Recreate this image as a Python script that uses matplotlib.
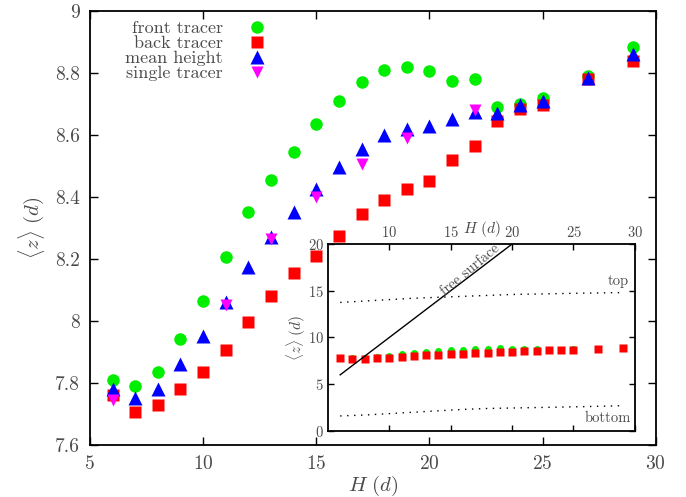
import numpy as np
import matplotlib
matplotlib.use("Agg")
import matplotlib.pyplot as plt
from matplotlib.ticker import FormatStrFormatter

plt.rcParams['font.family'] = 'cmr10'
plt.rcParams['mathtext.fontset'] = 'cm'
plt.rcParams['axes.formatter.use_mathtext'] = True

H = [6, 7, 8, 9, 10, 11, 12, 13, 14, 15, 16, 17, 18, 19, 20, 21, 22, 23, 24, 25, 27, 29]
front = [7.81, 7.79, 7.835, 7.94, 8.065, 8.205, 8.35, 8.455, 8.545, 8.635, 8.71, 8.77,
         8.81, 8.82, 8.805, 8.775, 8.78, 8.69, 8.70, 8.72, 8.79, 8.885]
back = [7.76, 7.705, 7.73, 7.78, 7.835, 7.905, 7.995, 8.08, 8.155, 8.21, 8.275, 8.345,
        8.39, 8.425, 8.45, 8.52, 8.565, 8.645, 8.685, 8.695, 8.78, 8.84]
mean_h = [7.78, 7.75, 7.78, 7.86, 7.95, 8.06, 8.175, 8.27, 8.35, 8.425, 8.495, 8.555,
          8.60, 8.62, 8.63, 8.65, 8.675, 8.67, 8.695, 8.71, 8.785, 8.86]
H_single = [6, 11, 13, 15, 17, 19, 22]
single = [7.745, 8.05, 8.265, 8.40, 8.505, 8.59, 8.68]

# bed top / bottom positions for the inset
H_bed = [6, 8, 10, 12, 14, 16, 18, 20, 22, 24, 26, 29]
bed_top = [13.75, 13.9, 14.05, 14.2, 14.3, 14.4, 14.5, 14.6, 14.65, 14.7, 14.75, 14.8]
bed_bottom = [1.6, 1.7, 1.85, 2.0, 2.15, 2.3, 2.4, 2.45, 2.5, 2.55, 2.6, 2.7]
H_surf = [6, 29]

grey = '#4a4a4a'

fig = plt.figure(figsize=(6.86, 4.97), dpi=100)
ax = fig.add_axes([0.131, 0.105, 0.825, 0.873])

ax.plot(H, front, 'o', color='#00ee00', ms=9, mec='none', label='front tracer')
ax.plot(H, back, 's', color='#ff0000', ms=8.5, mec='none', label='back tracer')
ax.plot(H, mean_h, '^', color='#0000ff', ms=10, mec='none', label='mean height')
ax.plot(H_single, single, 'v', color='#ff00ff', ms=9, mec='none', label='single tracer')

ax.set_xlim(5, 30)
ax.set_ylim(7.6, 9)
ax.set_xticks([5, 10, 15, 20, 25, 30])
ax.set_yticks([7.6, 7.8, 8, 8.2, 8.4, 8.6, 8.8, 9])
ax.yaxis.set_major_formatter(FormatStrFormatter('%g'))
ax.tick_params(direction='in', top=True, right=True, length=6, width=1,
               labelsize=14, labelcolor=grey, pad=7)
for s in ax.spines.values():
    s.set_linewidth(1.3)
ax.set_xlabel(r'$H\ (d)$', fontsize=15, color=grey, labelpad=1)
ax.set_ylabel(r'$\langle z\rangle\ (d)$', fontsize=15, color=grey, labelpad=6)

leg = ax.legend(loc='upper left', bbox_to_anchor=(0.04, 1.007), frameon=False,
                markerfirst=False, fontsize=13, handletextpad=0.9,
                labelspacing=-0.04, borderaxespad=0.3)
for t in leg.get_texts():
    t.set_color(grey)
    t.set_ha('right')
leg._legend_box.align = 'right'

# inset: same tracers on the full bed scale
ins = fig.add_axes([0.478, 0.133, 0.4475, 0.376])
ins.plot(H, front, 'o', color='#00ee00', ms=5, mec='none')
ins.plot(H, back, 's', color='#ff0000', ms=5.5, mec='none')
ins.plot(H_surf, H_surf, '-', color='black', lw=1)
ins.plot(H_bed, bed_top, color='black', lw=1, ls=(0, (1, 4)))
ins.plot(H_bed, bed_bottom, color='black', lw=1, ls=(0, (1, 4)))
ins.text(16.6, 17.2, 'free surface', rotation=40, fontsize=10.5, color=grey,
         ha='center', va='center')
ins.text(29.5, 16.0, 'top', fontsize=10.5, color=grey, ha='right', va='center')
ins.text(29.7, 1.4, 'bottom', fontsize=10.5, color=grey, ha='right', va='center')

ins.set_xlim(5, 30)
ins.set_ylim(0, 20)
ins.set_xticks([10, 15, 20, 25, 30])
ins.set_yticks([0, 5, 10, 15, 20])
ins.tick_params(direction='in', top=True, right=True, bottom=True,
                labeltop=True, labelbottom=False, length=4, width=1,
                labelsize=10.5, labelcolor=grey, pad=3)
for s in ins.spines.values():
    s.set_linewidth(1.3)
ins.xaxis.set_label_position('top')
ins.set_xlabel(r'$H\ (d)$', fontsize=11, color=grey, labelpad=-6)
ins.set_ylabel(r'$\langle z\rangle\ (d)$', fontsize=11, color=grey, labelpad=0)

fig.savefig('out.png', dpi=100)
